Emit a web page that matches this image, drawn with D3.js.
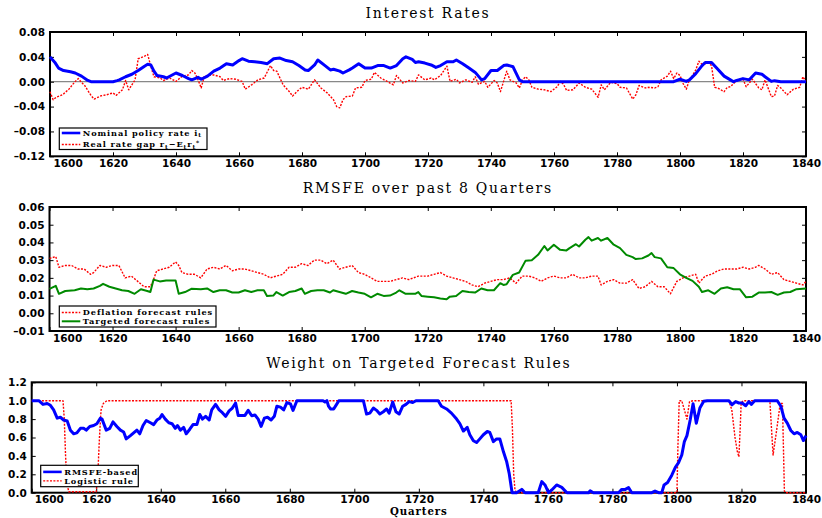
<!DOCTYPE html>
<html><head><meta charset="utf-8">
<script src="https://cdn.jsdelivr.net/npm/d3@7"></script>
<style>body{margin:0;background:#fff}</style>
</head><body>
<svg id="c" width="822" height="518" xmlns="http://www.w3.org/2000/svg"></svg>
<script>
// ---------------- data ----------------
const quarterTicks = [1600,1620,1640,1660,1680,1700,1720,1740,1760,1780,1800,1820,1840];
const rateTicks = [0.08,0.04,0,-0.04,-0.08,-0.12];
const rmsfeTicks = [0.06,0.05,0.04,0.03,0.02,0.01,0,-0.01];
const weightTicks = [1.2,1.0,0.8,0.6,0.4,0.2,0];

const policyRate = [[1600,.040],[1601.7,.030],[1602.7,.022],[1604.3,.018],[1606.5,.016],[1608,.014],[1610,.009],[1612,.002],[1613,0],[1620,0],[1621.3,.0017],[1622,.003],[1624,.008],[1626,.012],[1628,.018],[1630,.025],[1631,.028],[1632,.027],[1633,.017],[1634,.010],[1636,.008],[1637,.006],[1640,.014],[1642,.010],[1644,.005],[1645,.003],[1647,.007],[1648,.004],[1650,.009],[1652,.017],[1654,.022],[1656,.029],[1658,.027],[1660,.034],[1661,.037],[1663,.033],[1665,.032],[1667,.031],[1669,.029],[1671,.037],[1673,.038],[1675,.034],[1677,.032],[1679,.026],[1681,.019],[1682,.018],[1684,.027],[1685,.035],[1687,.027],[1689,.019],[1690,.020],[1692,.017],[1693,.014],[1695,.019],[1696,.022],[1698,.029],[1700,.022],[1702,.022],[1704,.026],[1706,.026],[1708,.022],[1710,.026],[1712,.037],[1713,.040],[1715,.036],[1716,.031],[1717,.032],[1719,.030],[1721,.027],[1722.5,.023],[1724,.026],[1726,.032],[1728,.032],[1729,.035],[1731,.029],[1733,.022],[1735,.015],[1737,.003],[1738,.005],[1740,.018],[1742,.018],[1744,.026],[1745,.027],[1747,.024],[1749,.003],[1750,0],[1798,0],[1800,.004],[1802,.0005],[1803,.003],[1805,.013],[1807,.026],[1808,.031],[1810,.031],[1812,.020],[1814,.009],[1816,.003],[1817,0],[1818,.002],[1820,.005],[1822,.003],[1824,.014],[1826,.012],[1827,.008],[1829,.0005],[1830,.0017],[1832,0],[1840,0]];

const realRateGap = [[1600,-.016],[1601,-.029],[1602,-.025],[1604,-.021],[1606,-.012],[1608,.0005],[1609,.005],[1610,-.001],[1611,-.006],[1613,-.022],[1614,-.028],[1616,-.023],[1618,-.021],[1620,-.018],[1621,-.022],[1623,-.013],[1624,.002],[1625,-.013],[1627,.003],[1628,.037],[1630,.041],[1631,.044],[1632,.025],[1633,.008],[1635,.006],[1636,.002],[1638,.006],[1640,.0005],[1642,.009],[1644,.011],[1645,.018],[1646,.014],[1647,.003],[1648,-.010],[1649,.009],[1650,.010],[1652,.011],[1654,.008],[1655,.002],[1657,.005],[1659,.004],[1661,.0005],[1662,-.012],[1664,-.005],[1666,.003],[1668,.006],[1670,.026],[1671,.018],[1672,.017],[1674,-.005],[1676,-.016],[1677,-.023],[1679,-.013],[1680,-.009],[1682,-.012],[1684,.003],[1686,-.010],[1688,-.018],[1690,-.029],[1691,-.040],[1692,-.042],[1693,-.029],[1694,-.024],[1696,-.023],[1697,-.010],[1699,-.009],[1700,.002],[1702,.004],[1703,.015],[1705,.006],[1707,.0005],[1709,-.005],[1710,.010],[1712,-.002],[1714,.002],[1716,.0005],[1717,.011],[1719,.003],[1721,.006],[1722,.003],[1724,.010],[1726,.025],[1727,.0005],[1729,.004],[1730,-.002],[1732,.003],[1734,-.001],[1735,.008],[1736,-.004],[1738,.0005],[1739,-.009],[1741,.002],[1742,-.002],[1743,-.016],[1745,.017],[1746,.003],[1748,-.002],[1749,-.010],[1750,.003],[1751,.008],[1752,.003],[1753,-.009],[1755,-.012],[1757,-.013],[1759,-.016],[1761,-.008],[1762,.0005],[1763,-.004],[1764,-.014],[1766,-.013],[1768,-.002],[1770,-.009],[1772,-.012],[1774,-.025],[1775,-.005],[1776,-.013],[1778,-.001],[1780,-.003],[1781,-.009],[1783,-.010],[1784,-.019],[1785,-.028],[1786,-.021],[1787,-.006],[1789,-.010],[1790,-.009],[1792,-.010],[1793,-.008],[1794,.003],[1796,.009],[1797,.017],[1798,.005],[1799,.014],[1800,.010],[1801,-.003],[1802,-.012],[1803,.003],[1804,.010],[1805,.019],[1806,.033],[1807,.028],[1808,.029],[1809,.030],[1810,.026],[1811,-.009],[1812,-.010],[1814,-.016],[1815,-.009],[1816,-.008],[1818,.002],[1820,.004],[1821,-.008],[1822,-.002],[1823,.004],[1825,-.010],[1826,-.013],[1827,.003],[1829,-.024],[1830,-.023],[1831,-.006],[1832,-.010],[1834,-.021],[1836,-.012],[1838,-.009],[1839,.008],[1840,.0005]];

const deflationRmsfe = [[1600,.031],[1602,.032],[1603,.026],[1605,.027],[1607,.027],[1609,.025],[1611,.025],[1613,.022],[1614,.023],[1616,.027],[1618,.026],[1620,.027],[1622,.027],[1624,.020],[1626,.021],[1628,.018],[1630,.015],[1632,.015],[1633,.019],[1634,.024],[1636,.025],[1638,.026],[1640,.029],[1641,.027],[1642,.023],[1644,.022],[1646,.022],[1648,.020],[1650,.025],[1652,.026],[1654,.025],[1656,.027],[1658,.024],[1660,.025],[1662,.025],[1664,.024],[1666,.023],[1668,.022],[1670,.020],[1672,.021],[1674,.022],[1676,.026],[1678,.026],[1680,.028],[1682,.027],[1684,.030],[1686,.030],[1688,.028],[1690,.030],[1692,.025],[1694,.026],[1696,.027],[1698,.023],[1700,.022],[1702,.020],[1704,.018],[1706,.018],[1708,.018],[1710,.019],[1712,.020],[1714,.019],[1717,.021],[1720,.021],[1722,.022],[1724,.023],[1726,.021],[1728,.020],[1730,.019],[1732,.018],[1734,.016],[1736,.015],[1738,.017],[1740,.018],[1742,.019],[1744,.019],[1746,.020],[1748,.017],[1750,.021],[1752,.021],[1754,.020],[1756,.018],[1758,.020],[1760,.021],[1762,.020],[1764,.020],[1766,.022],[1768,.020],[1770,.020],[1772,.021],[1774,.021],[1775,.016],[1777,.018],[1779,.019],[1781,.017],[1783,.017],[1785,.019],[1787,.014],[1789,.015],[1791,.018],[1793,.015],[1795,.015],[1797,.011],[1799,.018],[1801,.020],[1803,.021],[1805,.022],[1806,.017],[1808,.021],[1810,.022],[1812,.024],[1814,.025],[1816,.025],[1818,.025],[1820,.026],[1822,.025],[1824,.026],[1825,.027],[1827,.025],[1829,.022],[1831,.023],[1833,.019],[1835,.018],[1837,.017],[1839,.016],[1840,.018]];

const targetedRmsfe = [[1600,.0138],[1602,.0155],[1603,.011],[1605,.0126],[1608,.013],[1610,.014],[1612,.0136],[1614,.014],[1616,.0155],[1617,.0166],[1619,.015],[1621,.014],[1623,.013],[1625,.0126],[1627,.011],[1629,.0136],[1631,.0126],[1632,.012],[1633,.019],[1635,.018],[1637,.0185],[1640,.0185],[1641,.011],[1643,.012],[1645,.0138],[1648,.0136],[1650,.014],[1652,.012],[1654,.013],[1656,.013],[1658,.0117],[1660,.0117],[1662,.013],[1664,.012],[1666,.013],[1668,.013],[1669,.0098],[1671,.010],[1672,.012],[1674,.010],[1676,.012],[1678,.0126],[1680,.014],[1681,.011],[1683,.0126],[1685,.013],[1687,.013],[1689,.0117],[1690,.013],[1692,.012],[1694,.011],[1696,.0126],[1698,.0117],[1700,.011],[1702,.009],[1704,.011],[1706,.0098],[1708,.010],[1710,.0117],[1711,.013],[1713,.011],[1716,.011],[1717,.012],[1718,.0098],[1720,.0094],[1722,.009],[1724,.0083],[1726,.0079],[1727,.0094],[1729,.0098],[1731,.0126],[1733,.012],[1735,.0117],[1737,.014],[1739,.013],[1741,.013],[1743,.017],[1744,.016],[1745,.0164],[1747,.0217],[1749,.023],[1751,.0296],[1753,.030],[1755,.033],[1757,.038],[1758,.0355],[1760,.0387],[1762,.0358],[1764,.0355],[1765,.0368],[1767,.039],[1768,.0377],[1770,.0415],[1771,.043],[1772,.041],[1774,.0425],[1775,.041],[1777,.0425],[1779,.0387],[1781,.0368],[1783,.033],[1785,.0317],[1786,.0306],[1788,.031],[1790,.0326],[1791,.034],[1792,.0317],[1794,.031],[1796,.026],[1798,.0255],[1800,.022],[1802,.020],[1804,.0183],[1806,.015],[1807,.012],[1809,.013],[1811,.011],[1813,.014],[1815,.0147],[1817,.0136],[1819,.0136],[1821,.009],[1823,.0094],[1825,.0117],[1827,.0117],[1829,.012],[1831,.0104],[1833,.0117],[1835,.012],[1837,.0136],[1840,.014]];

const rmsfeWeight = [[1600,1],[1602.2,1],[1603.5,.96],[1604.8,.97],[1605.8,.95],[1606.8,.90],[1607.9,.81],[1608.9,.82],[1609.9,.79],[1611,.78],[1612,.68],[1613,.64],[1614,.65],[1615.1,.70],[1616.1,.70],[1616.9,.68],[1618,.72],[1619.2,.73],[1620.2,.75],[1621.3,.81],[1621.8,.80],[1623.1,.68],[1624.2,.70],[1625.2,.77],[1626.4,.72],[1627.5,.68],[1628.5,.66],[1629.3,.585],[1630.6,.62],[1631.6,.65],[1632.6,.68],[1633.5,.64],[1634.5,.73],[1635.5,.785],[1636.8,.76],[1637.8,.74],[1638.8,.79],[1639.7,.81],[1640.4,.85],[1641.4,.80],[1642.5,.76],[1643.5,.75],[1644.5,.70],[1645.2,.73],[1646.1,.68],[1647.1,.71],[1647.9,.64],[1649,.69],[1650,.74],[1651.2,.74],[1652.1,.85],[1652.9,.80],[1653.9,.83],[1655,.79],[1655.8,.90],[1657,.96],[1658.1,.90],[1659.1,.87],[1660.1,.83],[1661.2,.89],[1662.2,.92],[1663.2,.975],[1664,.84],[1665.1,.84],[1666.1,.84],[1667.1,.895],[1668.2,.836],[1669.2,.845],[1670.2,.80],[1671.1,.72],[1672.1,.81],[1673.1,.82],[1674.2,.79],[1675.2,.83],[1676,.94],[1677.1,.93],[1678.1,.90],[1679.1,.98],[1680.2,.965],[1681,.895],[1682.2,1],[1690.3,1],[1690.9,.985],[1691.5,1],[1692,.94],[1692.6,.91],[1693.6,.91],[1694.5,.96],[1695.2,1],[1702.8,1],[1703.8,.855],[1704.8,.865],[1705.9,.92],[1706.9,.895],[1707.9,.855],[1709,.88],[1710,.91],[1710.8,.865],[1711.9,.985],[1712.9,.88],[1713.9,.855],[1715,.94],[1716,.96],[1717,.99],[1718.1,.98],[1719.1,1],[1726,1],[1727,.94],[1728.6,.91],[1730.1,.865],[1731.7,.80],[1732.7,.75],[1733.8,.67],[1735,.71],[1735.8,.63],[1736.9,.565],[1737.9,.545],[1738.9,.585],[1740,.63],[1741.2,.665],[1742,.655],[1743.1,.555],[1744.1,.585],[1745.1,.585],[1746.2,.447],[1747.2,.34],[1748,.21],[1748.9,0],[1750.3,0],[1751.9,.036],[1752.9,0],[1757,0],[1758.1,.12],[1759.1,.084],[1760.2,0],[1761.2,.03],[1762.7,.084],[1764.3,.058],[1765.9,0],[1772.6,0],[1773.1,.02],[1774.1,0],[1781.9,0],[1782.9,.036],[1784,.036],[1785,.055],[1786,0],[1792.2,0],[1793.2,.018],[1794.3,0],[1795.3,0],[1796,.084],[1797.1,.11],[1798.4,.19],[1799.5,.276],[1800.5,.327],[1801.5,.41],[1802.3,.556],[1803.1,.62],[1804.1,.79],[1805,.967],[1806,.756],[1807.1,.92],[1808.3,.993],[1809.4,1],[1816.1,1],[1817.1,.956],[1818.2,.99],[1819.2,.975],[1820.2,.975],[1821.3,.945],[1822.3,.99],[1823.1,.96],[1824.1,1],[1831.1,1],[1832.2,.94],[1833.2,.81],[1834.2,.756],[1835.3,.676],[1836.3,.64],[1837.3,.655],[1838.4,.63],[1839.2,.567],[1840,.62]];

const logisticWeight = [[1600,1],[1609.7,1],[1610.1,.8],[1610.5,.4],[1610.9,.1],[1611.5,.01],[1620,.01],[1620.5,.2],[1621,.6],[1621.5,.9],[1622.2,.97],[1623.3,1],[1748.6,1],[1749,.7],[1749.4,.2],[1749.8,.03],[1750.3,0],[1800,0],[1800.3,.5],[1800.7,1],[1801.5,1],[1802.3,.9],[1803.1,.8],[1803.9,.99],[1805,1],[1816.1,1],[1817,.9],[1818,.6],[1818.7,.45],[1819.2,.39],[1819.6,.7],[1819.9,.97],[1820.5,1],[1828.8,1],[1829.3,.7],[1829.8,.41],[1830.9,.68],[1832,.97],[1832.7,.97],[1833,.5],[1833.3,.02],[1833.6,0],[1840,0]];

// ---------------- styles ----------------
const BLUE = {stroke:"#0000ff", width:3, dash:null, lw:2.6};
const RED = {stroke:"#ff0000", width:1.4, dash:"2,1.4", lw:1.4};
const GREEN = {stroke:"#008a00", width:2, dash:null, lw:2};

const panels = [
  {title:"Interest Rates", left:50, right:806, top:32, bottom:156.3, titleY:18.3,
   yDomain:[-0.12,0.08], ticks:rateTicks, fmt:".2f", zero:true, firstDx:3,
   series:[{data:realRateGap, s:RED},{data:policyRate, s:BLUE}],
   legend:{x:59.3,y:128,w:147.7,h:21.5,rows:[5,16.5],items:[
     {s:BLUE, parts:[["Nominal policy rate i",0],["t",1]]},
     {s:RED, parts:[["Real rate gap r",0],["t",1],["\u2212E",0],["t",1],["r",0],["t",1],["*",2]]}]}},
  {title:"RMSFE over past 8 Quarters", left:49.5, right:806, top:207, bottom:331, titleY:192.5,
   yDomain:[-0.01,0.06], ticks:rmsfeTicks, fmt:".2f", zero:false, firstDx:3,
   series:[{data:deflationRmsfe, s:RED},{data:targetedRmsfe, s:GREEN}],
   legend:{x:59.3,y:306,w:156.7,h:21,rows:[6.5,15.3],items:[
     {s:RED, parts:[["Deflation forecast rules",0]]},
     {s:GREEN, parts:[["Targeted forecast rules",0]]}]}},
  {title:"Weight on Targeted Forecast Rules", left:31.7, right:806, top:382.3, bottom:492.7, titleY:367.5,
   yDomain:[0,1.2], ticks:weightTicks, fmt:".1f", zero:false, firstDx:2.5,
   series:[{data:logisticWeight, s:RED},{data:rmsfeWeight, s:BLUE}],
   legend:{x:40.7,y:465.3,w:97.6,h:21.4,rows:[6.6,15.6],items:[
     {s:BLUE, parts:[["RMSFE-based",0]]},
     {s:RED, parts:[["Logistic rule",0]]}]},
   xlabel:"Quarters"}
];

const svg = d3.select("#c");
const TICKFONT = "DejaVu Sans, sans-serif";
const SERIF = "DejaVu Serif, serif";

panels.forEach(p => {
  const x = d3.scaleLinear().domain([1600,1840]).range([p.left,p.right]);
  const y = d3.scaleLinear().domain(p.yDomain).range([p.bottom,p.top]);
  const g = svg.append("g");
  const fmt = v => d3.format(p.fmt)(v).replace("\u2212","\u2013");

  // title
  g.append("text").attr("x",(p.left+p.right)/2).attr("y",p.titleY)
    .attr("text-anchor","middle").attr("font-family",SERIF).attr("font-size",14)
    .attr("letter-spacing","1.7px").attr("fill","#000").text(p.title);

  // zero line
  if (p.zero) g.append("line").attr("x1",p.left).attr("x2",p.right)
      .attr("y1",y(0)).attr("y2",y(0)).attr("stroke","#888").attr("stroke-width",1.2);

  // axes
  const ax = (axis, tr) => {
    const a = g.append("g").attr("transform",tr).call(axis);
    a.select(".domain").remove();
    a.selectAll("line").attr("stroke","#000").attr("stroke-width",1);
    a.selectAll("text").attr("font-family",TICKFONT).attr("font-size",10.5)
      .attr("font-weight","bold").attr("fill","#000");
    return a;
  };
  const bx = ax(d3.axisBottom(x).tickValues(quarterTicks).tickSizeInner(-4).tickSizeOuter(0).tickPadding(3.2).tickFormat(d3.format("d")),
     `translate(0,${p.bottom})`);
  bx.selectAll(".tick").filter(d => d===1600).select("text")
     .attr("text-anchor","start").attr("x",p.firstDx);
  ax(d3.axisTop(x).tickValues(quarterTicks).tickSizeInner(-4).tickSizeOuter(0).tickFormat(""),
     `translate(0,${p.top})`);
  ax(d3.axisLeft(y).tickValues(p.ticks).tickSizeInner(-4).tickSizeOuter(0).tickPadding(5).tickFormat(fmt),
     `translate(${p.left},0)`);
  ax(d3.axisRight(y).tickValues(p.ticks).tickSizeInner(-4).tickSizeOuter(0).tickFormat(""),
     `translate(${p.right},0)`);

  // frame
  g.append("rect").attr("x",p.left).attr("y",p.top)
    .attr("width",p.right-p.left).attr("height",p.bottom-p.top)
    .attr("fill","none").attr("stroke","#000").attr("stroke-width",2);

  // series
  const line = d3.line().x(d => x(d[0])).y(d => y(d[1]));
  p.series.forEach(se => {
    g.append("path").datum(se.data).attr("d",line).attr("fill","none")
      .attr("stroke",se.s.stroke).attr("stroke-width",se.s.width)
      .attr("stroke-dasharray",se.s.dash).attr("stroke-linejoin","round");
  });

  // legend
  const L = p.legend;
  const lg = g.append("g");
  lg.append("rect").attr("x",L.x).attr("y",L.y).attr("width",L.w).attr("height",L.h)
    .attr("fill","#fff").attr("stroke","#000").attr("stroke-width",1.2);
  L.items.forEach((it,i) => {
    const yy = L.y + L.rows[i];
    lg.append("line").attr("x1",L.x+2.5).attr("x2",L.x+21).attr("y1",yy).attr("y2",yy)
      .attr("stroke",it.s.stroke).attr("stroke-width",it.s.lw)
      .attr("stroke-dasharray",it.s.dash);
    const t = lg.append("text").attr("x",L.x+23.5).attr("y",yy+2.9)
      .attr("font-family",SERIF).attr("font-size",8.2).attr("font-weight","bold")
      .attr("letter-spacing","0.9px").attr("fill","#000");
    let shift = 0;
    it.parts.forEach(([s,k]) => {
      const sp = t.append("tspan").text(s);
      if (k===1) { sp.attr("font-size",6).attr("dy",1.5-shift); shift = 1.5; }
      else if (k===2) { sp.attr("font-size",6).attr("dy",-2.5-shift); shift = -2.5; }
      else { sp.attr("dy",-shift); shift = 0; }
    });
  });

  if (p.xlabel) g.append("text").attr("x",(p.left+p.right)/2).attr("y",515.3)
      .attr("text-anchor","middle").attr("font-family",SERIF).attr("font-size",10.2)
      .attr("font-weight","bold").attr("letter-spacing","0.9px").attr("fill","#000").text(p.xlabel);
});
</script>
</body></html>
